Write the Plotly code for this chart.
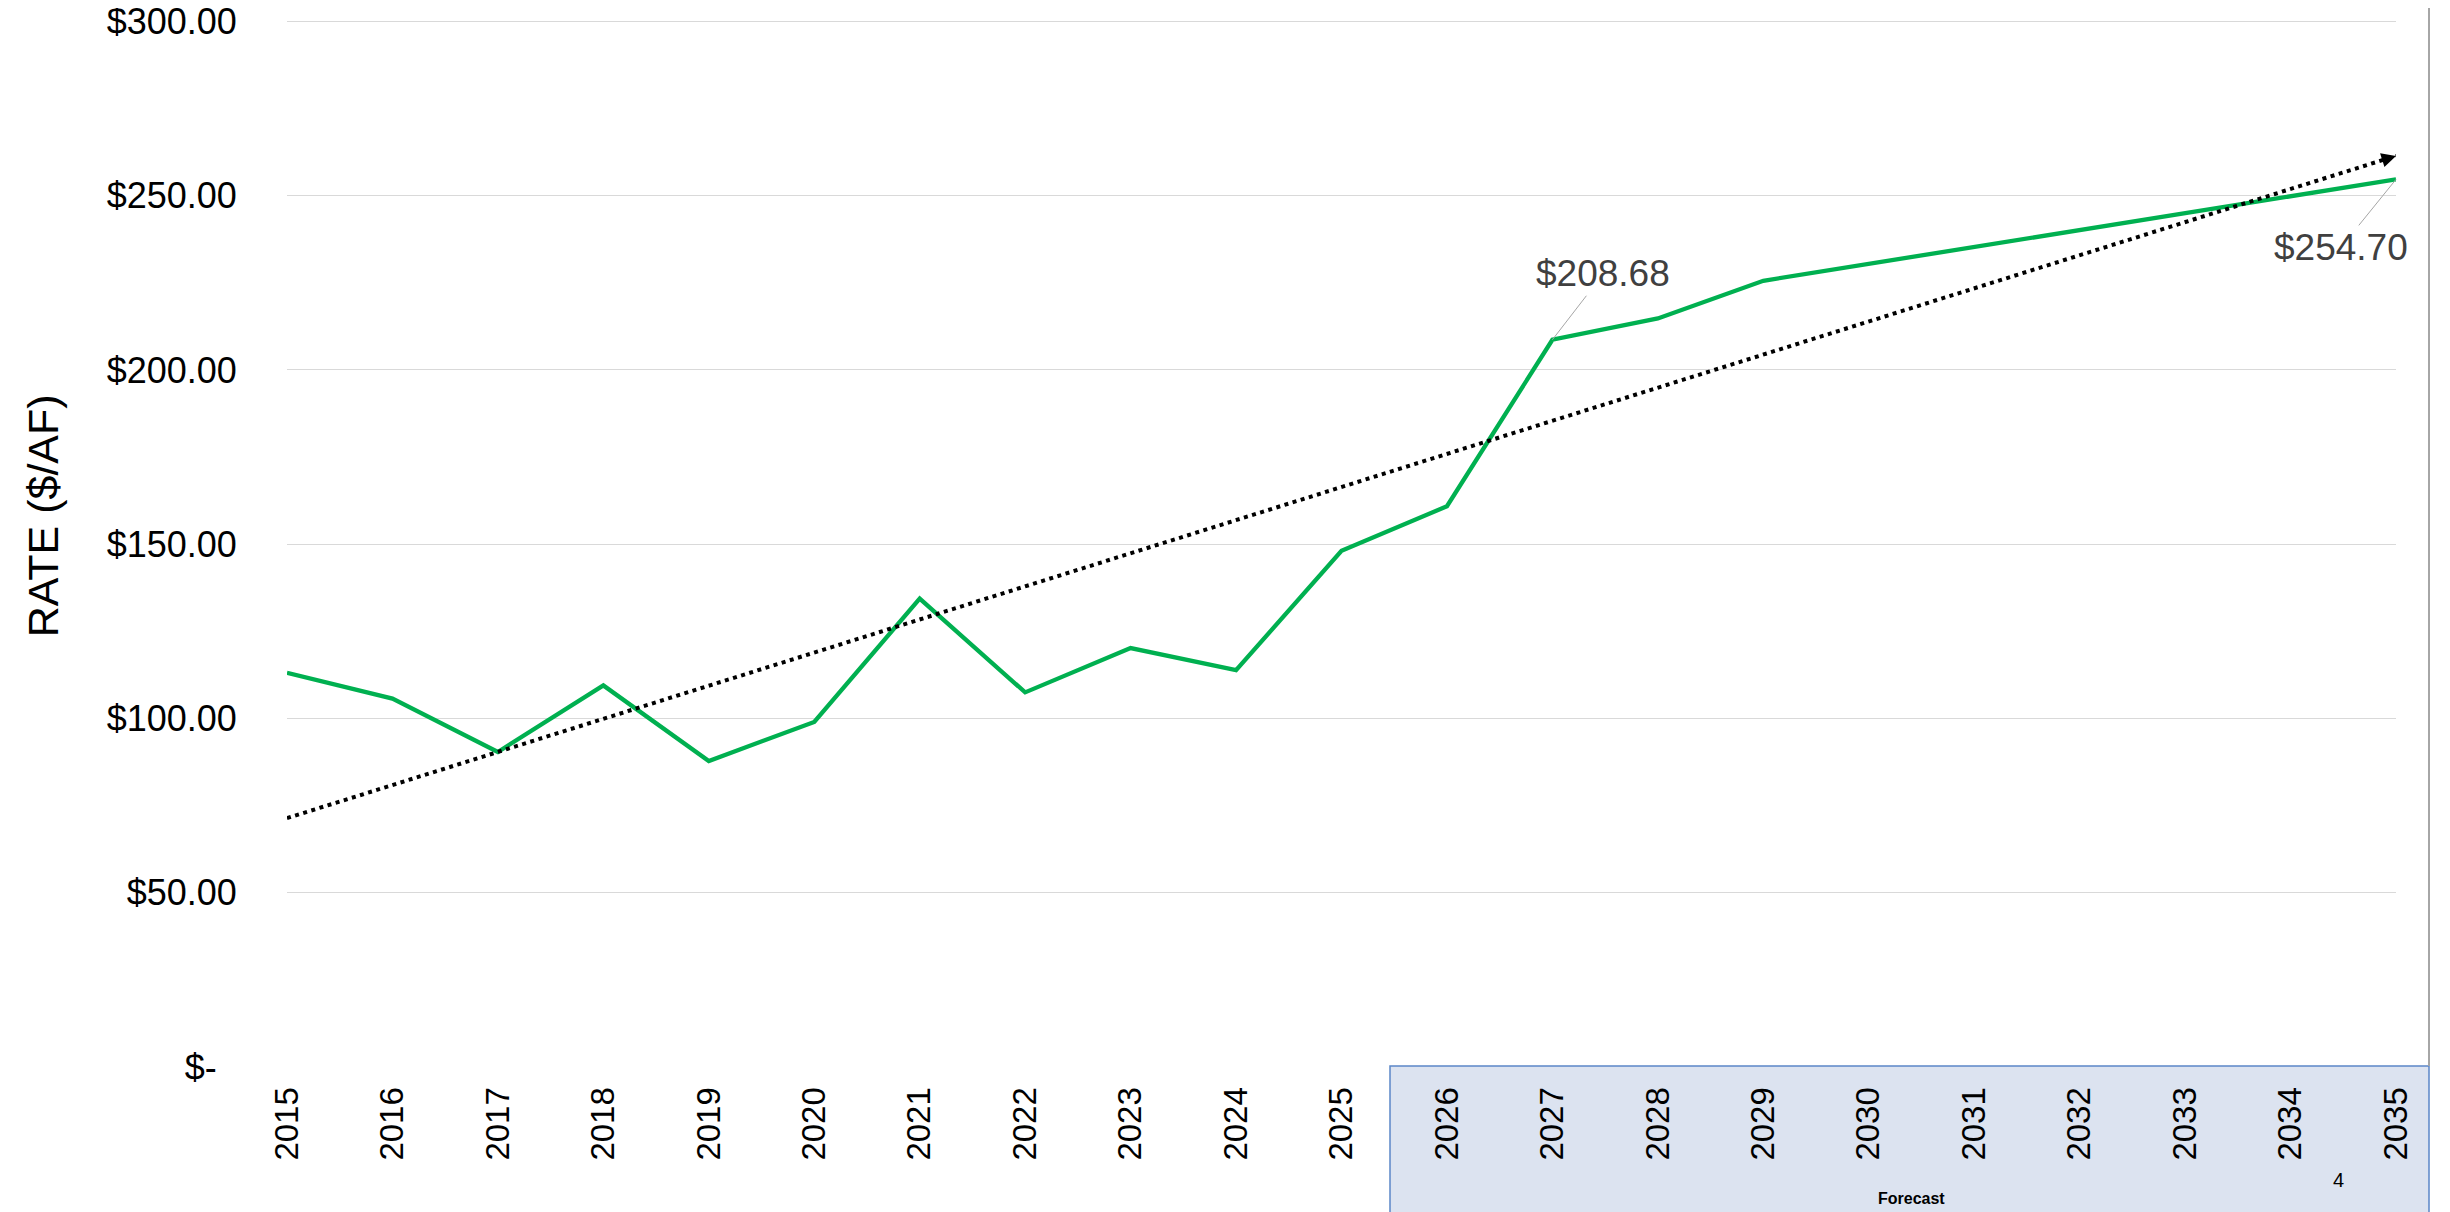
import numpy as np
import plotly.graph_objects as go

# ---------------- data ----------------
years = [2015, 2016, 2017, 2018, 2019, 2020, 2021, 2022, 2023, 2024, 2025,
         2026, 2027, 2028, 2029, 2030, 2031, 2032, 2033, 2034, 2035]
year_labels = [str(y) for y in years]
rate = [113.1, 105.7, 90.4, 109.5, 87.8, 99.0, 134.4, 107.5, 120.2, 113.9, 148.1,
        160.9, 208.68, 214.8, 225.6, 230.4, 235.2, 240.1, 245.0, 249.8, 254.7]

y_tick_values = [0, 50, 100, 150, 200, 250, 300]
y_tick_labels = ["$-\u00a0\u00a0", "$50.00", "$100.00", "$150.00", "$200.00", "$250.00", "$300.00"]

label_years = [2027, 2035]
label_texts = ["$208.68", "$254.70"]

y_title = "RATE ($/AF)"
forecast_text = "Forecast"
page_number = "4"

# ---------------- trend (linear fit of the series) ----------------
slope, intercept = np.polyfit(years, rate, 1)
trend = [slope * y + intercept for y in years]

FONT = "Liberation Sans, Arial, sans-serif"
OFF = 8                      # default page body margin
W, H = 2450 - OFF, 1212 - OFF
Y_MAX = 301
L, R, B = 279, 54, 145
# plot top chosen so that the 300 gridline sits at page y = 21
T = (H - B) - (1067 - 21) * Y_MAX / 300
PW, PH = W - L - R, H - T - B


def px_x(p):                 # page pixel -> paper fraction
    return (p - OFF - L) / PW


def px_y(p):
    return (H - B - (p - OFF)) / PH


fig = go.Figure()

fig.add_trace(go.Scatter(
    x=years, y=rate, mode="lines",
    line=dict(color="#00B050", width=4.3),
    hoverinfo="skip", showlegend=False, cliponaxis=False,
))

fig.add_trace(go.Scatter(
    x=years, y=trend, mode="lines",
    line=dict(color="#000000", width=4, dash="4px,4.5px"),
    hoverinfo="skip", showlegend=False, cliponaxis=False,
))

annotations = []

# arrow head at the end of the trend line
end_x = years[-1]
tail_x = end_x - 0.15
annotations.append(dict(
    x=end_x, y=trend[-1], ax=tail_x, ay=slope * tail_x + intercept,
    xref="x", yref="y", axref="x", ayref="y",
    text="", showarrow=True, arrowhead=2, arrowsize=1.2, arrowwidth=2.4,
    arrowcolor="#000000",
))

# data labels
offsets = [(51, -66), (-55, 68)]
for yr, txt, (dx, dy) in zip(label_years, label_texts, offsets):
    annotations.append(dict(
        x=yr, y=rate[years.index(yr)], xref="x", yref="y",
        ax=dx, ay=dy, text=txt, showarrow=True, arrowhead=0,
        arrowwidth=1, arrowcolor="#A6A6A6",
        font=dict(family=FONT, size=37, color="#404040"),
    ))

# y-axis title
annotations.append(dict(
    x=px_x(43), y=px_y(516), xref="paper", yref="paper",
    text=y_title, textangle=-90, showarrow=False,
    xanchor="center", yanchor="middle",
    font=dict(family=FONT, size=43, color="#000000"),
))

# forecast label and page number
annotations.append(dict(
    x=px_x(1911), y=px_y(1199), xref="paper", yref="paper",
    text="<b>" + forecast_text + "</b>", showarrow=False,
    xanchor="center", yanchor="middle",
    font=dict(family=FONT, size=16, color="#000000"),
))
annotations.append(dict(
    x=px_x(2338), y=px_y(1180), xref="paper", yref="paper",
    text=page_number, showarrow=False,
    xanchor="center", yanchor="middle",
    font=dict(family=FONT, size=20, color="#000000"),
))

shapes = [
    dict(type="rect", xref="paper", yref="paper", layer="below",
         x0=px_x(1390), x1=px_x(2429), y0=px_y(1216), y1=px_y(1066),
         fillcolor="#DCE3F0", line=dict(color="#5B87C7", width=1.5)),
    dict(type="line", xref="paper", yref="paper", layer="below",
         x0=px_x(2429), x1=px_x(2429), y0=px_y(1066), y1=px_y(6),
         line=dict(color="#A6A6A6", width=2)),
]

fig.update_layout(
    width=W, height=H,
    margin=dict(l=L, r=R, t=T, b=B, pad=0, autoexpand=False),
    paper_bgcolor="#FFFFFF", plot_bgcolor="rgba(0,0,0,0)",
    font=dict(family=FONT, color="#000000"),
    showlegend=False,
    annotations=annotations,
    shapes=shapes,
)

fig.update_xaxes(
    range=[years[0], years[-1]],
    tickmode="array", tickvals=years, ticktext=year_labels,
    tickangle=-90, tickfont=dict(family=FONT, size=33, color="#000000"),
    ticks="outside", ticklen=6, tickcolor="rgba(0,0,0,0)",
    showgrid=False, zeroline=False, showline=False, automargin=False,
)

fig.update_yaxes(
    range=[0, Y_MAX],
    tickmode="array", tickvals=y_tick_values, ticktext=y_tick_labels,
    tickfont=dict(family=FONT, size=36, color="#000000"),
    ticks="outside", ticklen=42, tickcolor="rgba(0,0,0,0)",
    ticklabeloverflow="allow",
    showgrid=True, gridcolor="#D9D9D9", gridwidth=1.3,
    zeroline=False, showline=False, automargin=False,
)

fig.write_html("out.html")
